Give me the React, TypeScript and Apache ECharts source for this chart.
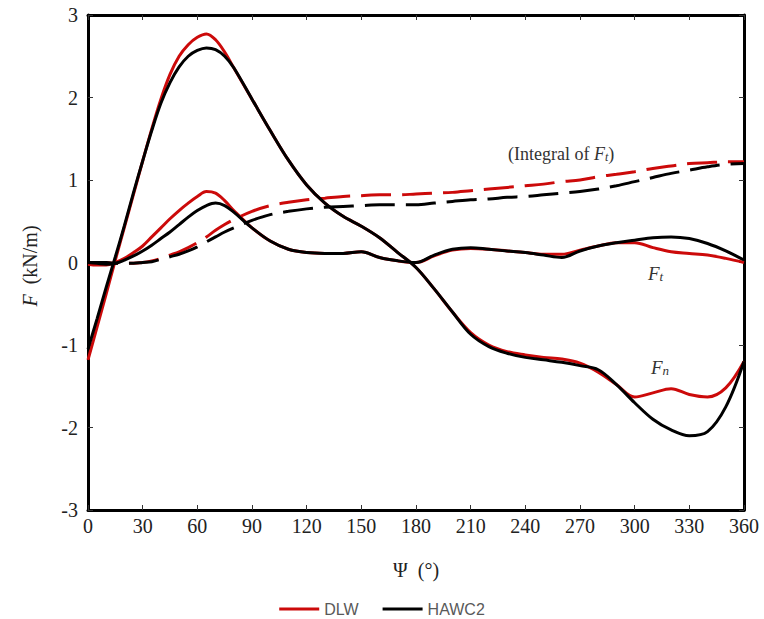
import React, { useEffect, useRef } from "react";
import * as echarts from "echarts";

const angles = [0, 5, 10, 15, 20, 25, 30, 35, 40, 45, 50, 55, 60, 65, 70, 75, 80, 90, 100, 110, 120, 130, 140, 150, 160, 170, 180, 190, 200, 210, 220, 230, 240, 250, 260, 270, 280, 290, 300, 310, 320, 330, 340, 350, 360];

const dlwFn = [-1.18, -0.78, -0.38, 0.03, 0.43, 0.83, 1.23, 1.62, 1.98, 2.28, 2.5, 2.64, 2.73, 2.77, 2.7, 2.55, 2.36, 1.98, 1.6, 1.24, 0.94, 0.72, 0.56, 0.44, 0.3, 0.12, -0.06, -0.32, -0.6, -0.85, -1.0, -1.08, -1.12, -1.15, -1.17, -1.22, -1.33, -1.48, -1.63, -1.58, -1.53, -1.6, -1.63, -1.52, -1.2];
const hawcFn = [-1.05, -0.68, -0.3, 0.07, 0.45, 0.85, 1.23, 1.6, 1.93, 2.18, 2.37, 2.5, 2.57, 2.6, 2.58, 2.5, 2.36, 1.98, 1.6, 1.24, 0.94, 0.72, 0.56, 0.44, 0.3, 0.12, -0.06, -0.32, -0.6, -0.87, -1.02, -1.1, -1.15, -1.18, -1.21, -1.25, -1.3, -1.48, -1.7, -1.9, -2.03, -2.1, -2.05, -1.75, -1.2];

const dlwFt = [-0.02, -0.03, -0.03, 0.0, 0.05, 0.12, 0.2, 0.31, 0.42, 0.53, 0.63, 0.72, 0.8, 0.86, 0.84, 0.75, 0.63, 0.42, 0.26, 0.16, 0.12, 0.11, 0.11, 0.13, 0.06, 0.02, 0.0, 0.08, 0.15, 0.17, 0.16, 0.14, 0.12, 0.1, 0.1, 0.15, 0.2, 0.24, 0.24, 0.18, 0.13, 0.11, 0.09, 0.05, 0.0];
const hawcFt = [0.0, -0.01, -0.02, -0.01, 0.03, 0.08, 0.14, 0.21, 0.29, 0.37, 0.46, 0.55, 0.63, 0.69, 0.72, 0.69, 0.61, 0.42, 0.26, 0.16, 0.12, 0.11, 0.11, 0.13, 0.06, 0.02, 0.0, 0.09, 0.16, 0.18, 0.16, 0.14, 0.12, 0.09, 0.06, 0.14, 0.2, 0.24, 0.27, 0.3, 0.31, 0.29, 0.23, 0.14, 0.03];

const dlwInt = [0, 0, 0, -0.01, -0.01, -0.01, 0.0, 0.02, 0.05, 0.09, 0.13, 0.18, 0.24, 0.31, 0.39, 0.46, 0.52, 0.62, 0.69, 0.73, 0.76, 0.78, 0.8, 0.81, 0.82, 0.82, 0.83, 0.84, 0.85, 0.87, 0.89, 0.91, 0.93, 0.95, 0.98, 1.0, 1.04, 1.07, 1.1, 1.14, 1.17, 1.2, 1.21, 1.22, 1.22];
const hawcInt = [0, 0, 0, -0.01, -0.01, -0.01, 0.0, 0.01, 0.04, 0.07, 0.1, 0.14, 0.19, 0.25, 0.31, 0.37, 0.42, 0.51, 0.58, 0.62, 0.65, 0.67, 0.68, 0.69, 0.7, 0.7, 0.7, 0.72, 0.74, 0.76, 0.77, 0.79, 0.8, 0.82, 0.84, 0.86, 0.89, 0.93, 0.98, 1.03, 1.08, 1.12, 1.16, 1.19, 1.2];

const xTicks = { min: 0, max: 360, interval: 30 };
const yTicks = { min: -3, max: 3, interval: 1 };

const RED = "#cc0a0a";
const BLACK = "#000000";
const SERIF = "'Liberation Serif', 'DejaVu Serif', serif";

const pairs = (ys: number[]) => angles.map((a, i) => [a, ys[i]]);

export default function App() {
  const ref = useRef<HTMLDivElement>(null);
  useEffect(() => {
    if (!ref.current) return;
    const chart = echarts.init(ref.current, null, { renderer: "svg" });
    const line = (name: string, color: string, ys: number[], dashed: boolean) => ({
      name,
      type: "line",
      data: pairs(ys),
      smooth: 0.35,
      symbol: "none",
      lineStyle: { color, width: 3, type: dashed ? [30, 11] : "solid" },
      itemStyle: { color },
      z: color === RED ? 2 : 3,
    });
    const axisCommon = {
      axisLine: { show: true, onZero: false, lineStyle: { color: BLACK, width: 3 } },
      axisTick: { show: true, inside: true, length: 5, lineStyle: { color: "#333", width: 1 } },
      splitLine: { show: false },
    };
    const sub = { fontSize: 13, fontFamily: SERIF, fontStyle: "italic", lineHeight: 10, verticalAlign: "bottom", fill: "#333" };
    const ital = { fontSize: 19, fontFamily: SERIF, fontStyle: "italic", lineHeight: 22, verticalAlign: "bottom", fill: "#333" };
    chart.setOption({
      animation: false,
      grid: { left: 88, right: 20, top: 15, bottom: 109, containLabel: false },
      legend: {
        data: [
          { name: "DLW", icon: "rect" },
          { name: "HAWC2", icon: "rect" },
        ],
        top: 596,
        left: "center",
        itemWidth: 40,
        itemHeight: 3,
        itemGap: 24,
        textStyle: { color: "#595959", fontSize: 16, fontFamily: "'Liberation Sans', Arial, sans-serif" },
      },
      xAxis: [
        {
          type: "value",
          ...xTicks,
          position: "bottom",
          ...axisCommon,
          axisLabel: { color: "#222", fontSize: 20, fontFamily: SERIF, margin: 6 },
        },
        {
          type: "value",
          ...xTicks,
          position: "top",
          ...axisCommon,
          axisLabel: { show: false },
        },
      ],
      yAxis: [
        {
          type: "value",
          ...yTicks,
          position: "left",
          ...axisCommon,
          axisLabel: { color: "#222", fontSize: 20, fontFamily: SERIF, margin: 10 },
        },
        {
          type: "value",
          ...yTicks,
          position: "right",
          ...axisCommon,
          axisLabel: { show: false },
        },
      ],
      series: [
        line("DLW", RED, dlwFn, false),
        line("HAWC2", BLACK, hawcFn, false),
        line("DLW", RED, dlwFt, false),
        line("HAWC2", BLACK, hawcFt, false),
        line("DLW", RED, dlwInt, true),
        line("HAWC2", BLACK, hawcInt, true),
      ],
      graphic: [
        {
          type: "text",
          x: 30,
          y: 266,
          rotation: Math.PI / 2,
          style: {
            text: "{i|F}  (kN/m)",
            align: "center",
            verticalAlign: "middle",
            fill: "#222",
            font: `20px ${SERIF}`,
            rich: { i: { fontStyle: "italic", fontSize: 20, fontFamily: SERIF, fill: "#222" } },
          },
        },
        {
          type: "text",
          x: 416,
          y: 570,
          style: {
            text: "Ψ  (°)",
            align: "center",
            verticalAlign: "middle",
            fill: "#222",
            font: `20px ${SERIF}`,
          },
        },
        {
          type: "text",
          x: 508,
          y: 152,
          style: {
            text: "{n|(Integral of }{i|F}{s|t}{n|)}",
            align: "left",
            verticalAlign: "middle",
            fill: "#333",
            rich: {
              n: { fontSize: 18, fontFamily: SERIF, lineHeight: 22, verticalAlign: "bottom", fill: "#333" },
              i: { ...ital, fontSize: 18 },
              s: { ...sub, fontSize: 12 },
            },
          },
        },
        {
          type: "text",
          x: 648,
          y: 272,
          style: { text: "{i|F}{s|t}", align: "left", verticalAlign: "middle", rich: { i: ital, s: sub } },
        },
        {
          type: "text",
          x: 651,
          y: 366,
          style: { text: "{i|F}{s|n}", align: "left", verticalAlign: "middle", rich: { i: ital, s: sub } },
        },
      ],
    });
    return () => chart.dispose();
  }, []);
  return (
    <div
      ref={ref}
      style={{ position: "fixed", left: 0, top: 0, width: 764, height: 619, background: "#fff" }}
    />
  );
}
